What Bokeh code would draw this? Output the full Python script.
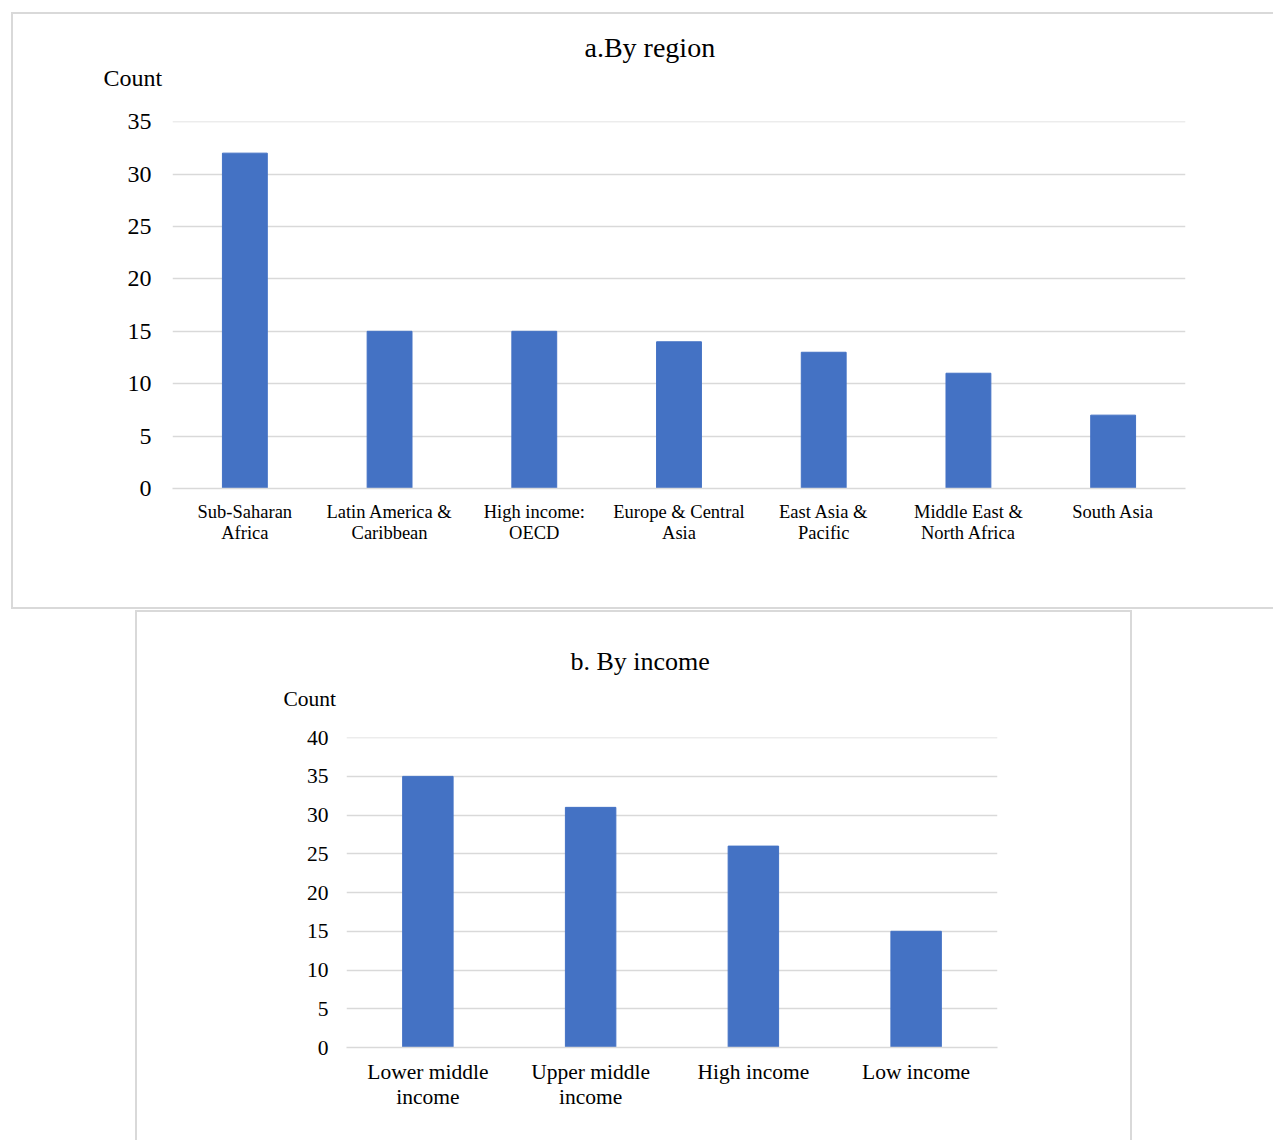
from bokeh.plotting import figure
from bokeh.models import Range1d, SingleIntervalTicker, FixedTicker, Title, LinearAxis
from bokeh.embed import file_html
from bokeh.resources import INLINE

# Panel a: counts by region
regions = ["Sub-Saharan Africa", "Latin America & Caribbean", "High income: OECD",
           "Europe & Central Asia", "East Asia & Pacific", "Middle East & North Africa",
           "South Asia"]
region_line1 = ["Sub-Saharan", "Latin America &", "High income:", "Europe & Central",
                "East Asia &", "Middle East &", "South Asia"]
region_line2 = ["Africa", "Caribbean", "OECD", "Asia", "Pacific", "North Africa", " "]
region_counts = [32, 15, 15, 14, 13, 11, 7]

# Panel b: counts by income group
incomes = ["Lower middle income", "Upper middle income", "High income", "Low income"]
income_line1 = ["Lower middle", "Upper middle", "High income", "Low income"]
income_line2 = ["income", "income", " ", " "]
income_counts = [35, 31, 26, 15]

FONT = "Liberation Serif"
BAR = "#4472C4"
GRID = "#d9d9d9"


def style_axis(ax, size, standoff, show_line):
    ax.axis_line_color = GRID if show_line else None
    ax.axis_line_width = 1.5
    ax.major_tick_line_color = None
    ax.minor_tick_line_color = None
    ax.major_tick_out = 0
    ax.major_tick_in = 0
    ax.minor_tick_out = 0
    ax.major_label_text_font = FONT
    ax.major_label_text_font_size = size
    ax.major_label_text_color = "black"
    ax.major_label_standoff = standoff


def panel(cats, line1, line2, counts, ymax, width, height, borders, bar_w,
          tick_size, cat_size, title, title_size, title_off, title_standoff,
          count_off, count_gap, tick_standoff, cat_standoff, cat_gap, margin, css):
    pos = list(range(1, len(cats) + 1))
    # a hair above the top tick so its grid line is drawn
    p = figure(x_range=Range1d(0.5, len(cats) + 0.5), y_range=Range1d(0, ymax + 0.02),
               width=width, height=height, output_backend="svg", toolbar_location=None,
               min_border_left=borders[0], min_border_right=borders[1],
               min_border_top=borders[2], min_border_bottom=borders[3])
    p.vbar(x=pos, top=counts, width=bar_w, color=BAR)
    p.outline_line_color = None
    p.xgrid.grid_line_color = None
    p.ygrid.grid_line_color = GRID
    p.ygrid.grid_line_width = 1.5

    p.yaxis.ticker = SingleIntervalTicker(interval=5)
    style_axis(p.yaxis[0], tick_size, tick_standoff, False)

    # category names on two rows: the first axis carries the upper row,
    # a second axis stacked below it carries the lower row
    ticker = FixedTicker(ticks=pos)
    p.xaxis.ticker = ticker
    style_axis(p.xaxis[0], cat_size, cat_standoff, True)
    p.xaxis[0].major_label_overrides = dict(zip(pos, line1))
    second = LinearAxis(ticker=ticker)
    style_axis(second, cat_size, cat_gap, False)
    second.major_label_overrides = dict(zip(pos, line2))
    p.add_layout(second, "below")

    # above the plot: a blank spacer, then "Count", then the panel title
    p.add_layout(Title(text=" ", standoff=count_gap, text_font_size="1px"), "above")
    p.add_layout(Title(text="Count", align="left", offset=count_off, standoff=0,
                       text_font=FONT, text_font_size=tick_size, text_font_style="normal",
                       text_color="black"), "above")
    p.title = Title(text=title, align="left", offset=title_off, standoff=title_standoff,
                    text_font=FONT, text_font_size=title_size, text_font_style="normal",
                    text_color="black")
    p.margin = margin
    p.styles = css
    return p


pa = panel(regions, region_line1, region_line2, region_counts, 35, 1262, 597,
           (159, 90, 107, 123), 0.31, "24px", "18.5px",
           "a.By region", "28px", 412, 0, -69, 28, 21, 13, -2,
           (12, 0, 0, 11),
           {"border-top": "2px solid #d9d9d9", "border-left": "2px solid #d9d9d9",
            "border-bottom": "2px solid #d9d9d9"})

pb = panel(incomes, income_line1, income_line2, income_counts, 40, 997, 530,
           (209, 137, 125, 95), 0.31, "21.5px", "21.5px",
           "b. By income", "26px", 224, 18, -63, 24, 18, 12, -2,
           (1, 0, 0, 135),
           {"border-top": "2px solid #d9d9d9", "border-left": "2px solid #d9d9d9",
            "border-right": "2px solid #d9d9d9"})

# two independent roots, so neither panel's borders are aligned to the other's
open("out.html", "w").write(file_html([pa, pb], INLINE))
